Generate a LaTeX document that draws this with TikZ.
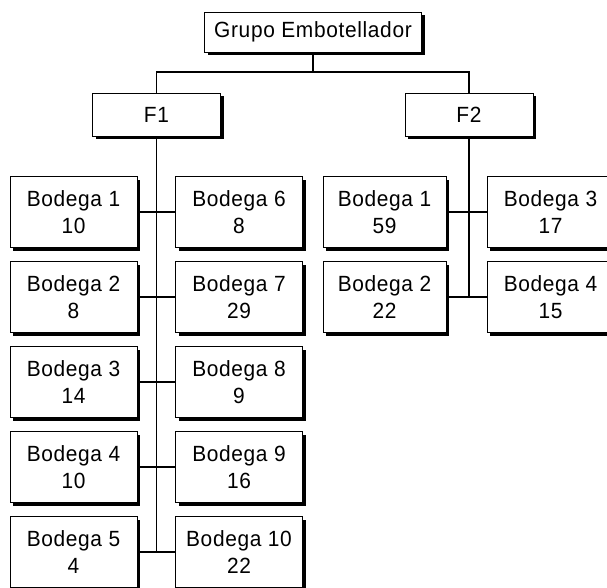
\documentclass[tikz,border=0pt]{standalone}
\usepackage{fontspec}
\usepackage{tikz}
\usetikzlibrary{shadows}
\newfontfamily\boxfont[LetterSpace=3, FakeStretch=0.95]{Liberation Sans}
\tikzset{
    caja/.style={draw, fill=white, line width=0.6pt, align=center, inner sep=0pt,
        font=\boxfont\fontsize{22}{27}\selectfont,
        drop shadow={shadow xshift=3pt, shadow yshift=-3pt, opacity=1, fill=black}},
    bodega/.style={caja, minimum width=127pt, minimum height=71pt},
    fabrica/.style={caja, minimum width=128pt, minimum height=43pt},
    linea/.style={line width=1.2pt}
}

\begin{document}
\begin{tikzpicture}[x=1pt, y=-1pt]
        \useasboundingbox (0,0) rectangle (607,587);
        \node[caja, minimum width=217pt, minimum height=40pt] (grupo) at (313,32) {Grupo Embotellador};
        \node[fabrica] (f1) at (156.5,114.5) {F1};
        \node[fabrica] (f2) at (469,114.5) {F2};
        \coordinate (bus) at (313,72);
        \draw[linea] (grupo.south) -- (bus);
        \draw[linea] (f1.north) |- (bus) -| (f2.north);

        \node[bodega] (a1) at (73.5,212) {Bodega 1\\10};
        \node[bodega] (a2) at (73.5,297) {Bodega 2\\8};
        \node[bodega] (a3) at (73.5,382) {Bodega 3\\14};
        \node[bodega] (a4) at (73.5,467) {Bodega 4\\10};
        \node[bodega] (a5) at (73.5,552) {Bodega 5\\4};
        \node[bodega] (a6) at (239,212) {Bodega 6\\8};
        \node[bodega] (a7) at (239,297) {Bodega 7\\29};
        \node[bodega] (a8) at (239,382) {Bodega 8\\9};
        \node[bodega] (a9) at (239,467) {Bodega 9\\16};
        \node[bodega] (a10) at (239,552) {Bodega 10\\22};

        \node[bodega, minimum width=123pt] (b1) at (384.5,212) {Bodega 1\\59};
        \node[bodega, minimum width=123pt] (b2) at (384.5,297) {Bodega 2\\22};
        \node[bodega] (b3) at (550.5,212) {Bodega 3\\17};
        \node[bodega] (b4) at (550.5,297) {Bodega 4\\15};

        \draw[linea] (f1.south) -- (f1 |- a5.east);
        \draw[linea] (a1.east) -- (a6.west);
        \draw[linea] (a2.east) -- (a7.west);
        \draw[linea] (a3.east) -- (a8.west);
        \draw[linea] (a4.east) -- (a9.west);
        \draw[linea] (a5.east) -- (a10.west);

        \draw[linea] (f2.south) -- (f2 |- b2.east);
        \draw[linea] (b1.east) -- (b3.west);
        \draw[linea] (b2.east) -- (b4.west);
    \end{tikzpicture}
\end{document}
